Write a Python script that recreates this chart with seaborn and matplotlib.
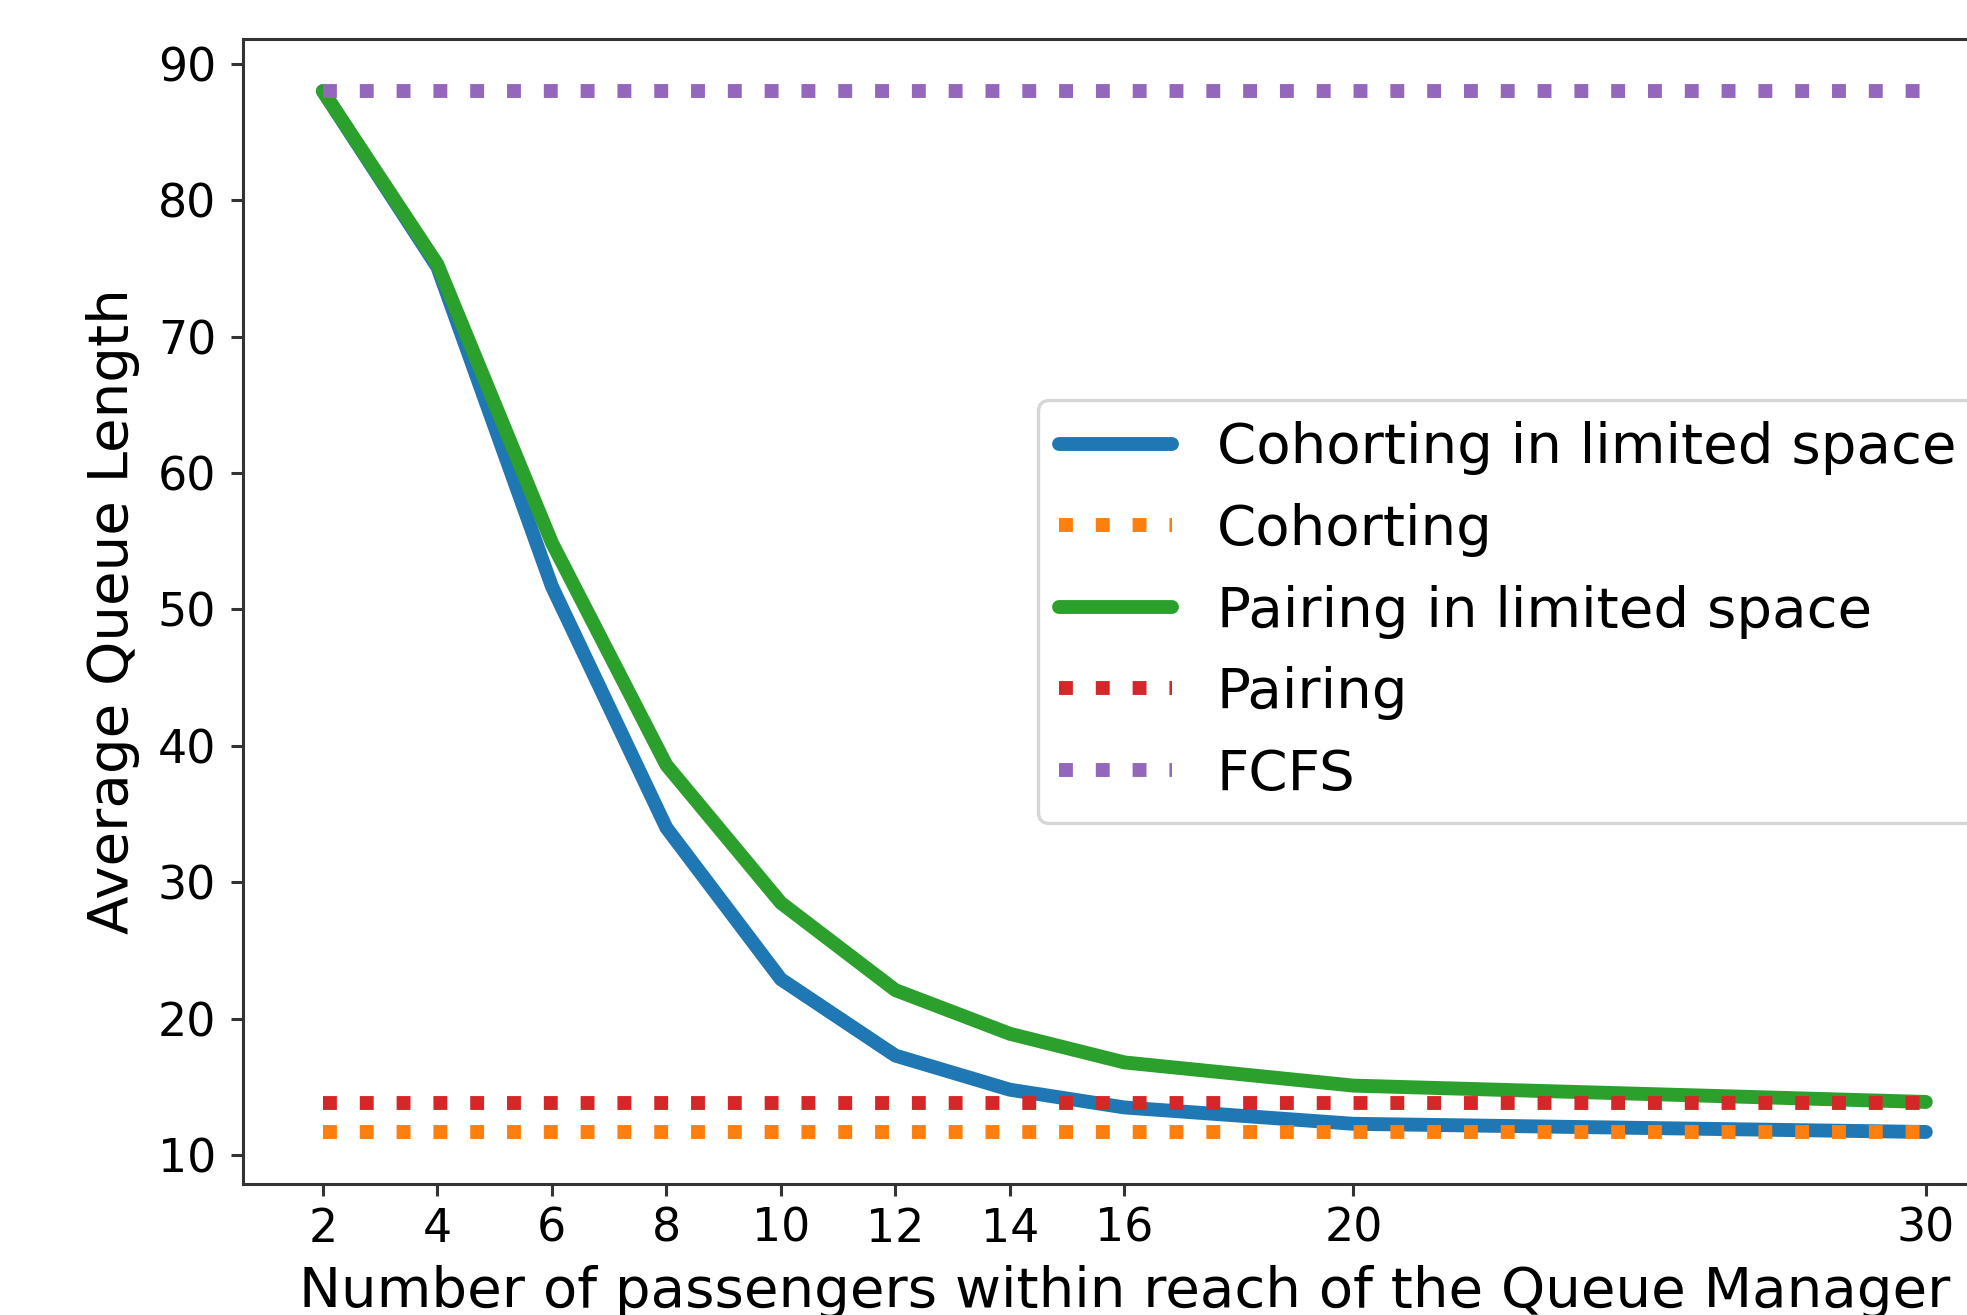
import numpy as np
import pandas as pd
import seaborn as sns
import matplotlib.pyplot as plt

sns.set_style("ticks")
plt.rcParams['font.family'] = ['DejaVu Sans']
plt.rcParams['text.color'] = 'black'
plt.rcParams['axes.labelcolor'] = 'black'
plt.rcParams['xtick.labelcolor'] = 'black'
plt.rcParams['ytick.labelcolor'] = 'black'

# values
n_passengers = [2, 4, 6, 8, 10, 12, 14, 16, 20, 30]
cohorting_limited = [88.0, 75.1, 51.7, 34.0, 22.9, 17.3, 14.8, 13.5, 12.3, 11.7]
pairing_limited = [88.0, 75.3, 54.9, 38.6, 28.5, 22.1, 18.9, 16.8, 15.1, 13.9]
cohorting_level = 11.7
pairing_level = 13.8
fcfs_level = 88.0

series = ["Cohorting in limited space", "Cohorting", "Pairing in limited space", "Pairing", "FCFS"]
y_ticks = [10, 20, 30, 40, 50, 60, 70, 80, 90]

values = {
    series[0]: cohorting_limited,
    series[1]: [cohorting_level] * len(n_passengers),
    series[2]: pairing_limited,
    series[3]: [pairing_level] * len(n_passengers),
    series[4]: [fcfs_level] * len(n_passengers),
}
df = pd.concat([pd.DataFrame({"n": n_passengers, "queue": v, "strategy": k}) for k, v in values.items()],
               ignore_index=True)

dashes = {series[0]: "", series[1]: (1, 1.65), series[2]: "", series[3]: (1, 1.65), series[4]: (1, 1.65)}
palette = dict(zip(series, sns.color_palette("tab10", 5)))

fig = plt.figure(figsize=(19.67, 13.15), dpi=100)
ax = fig.add_axes([0.1234, 0.0996, 1.0198 - 0.1234, 0.9703 - 0.0996])

sns.lineplot(data=df, x="n", y="queue", hue="strategy", style="strategy",
             hue_order=series, style_order=series, palette=palette, dashes=dashes,
             linewidth=10, errorbar=None, legend=False, ax=ax)

ax.set_xticks(n_passengers)
ax.set_yticks(y_ticks)
ax.set_xlabel("Number of passengers within reach of the Queue Manager", fontsize=40.5, labelpad=10)
ax.set_ylabel("Average Queue Length", fontsize=40.5, labelpad=12.7)

for sp in ax.spines.values():
    sp.set_visible(True)
    sp.set_linewidth(2.2)
    sp.set_color('#333333')
ax.tick_params(axis='both', length=8.6, width=2.2, color='#333333', labelsize=33)
ax.tick_params(axis='x', pad=7.6)
ax.tick_params(axis='y', pad=10.6)

leg = ax.legend(handles=ax.lines[:5], labels=series, loc='center right', fontsize=40.5,
                labelspacing=0.49, borderpad=0.38, handlelength=2.0, handletextpad=0.8,
                borderaxespad=0.5, frameon=True, fancybox=True)
leg.get_frame().set_linewidth(2.4)
leg.get_frame().set_edgecolor('0.8')

fig.savefig("out.png", dpi=100)
